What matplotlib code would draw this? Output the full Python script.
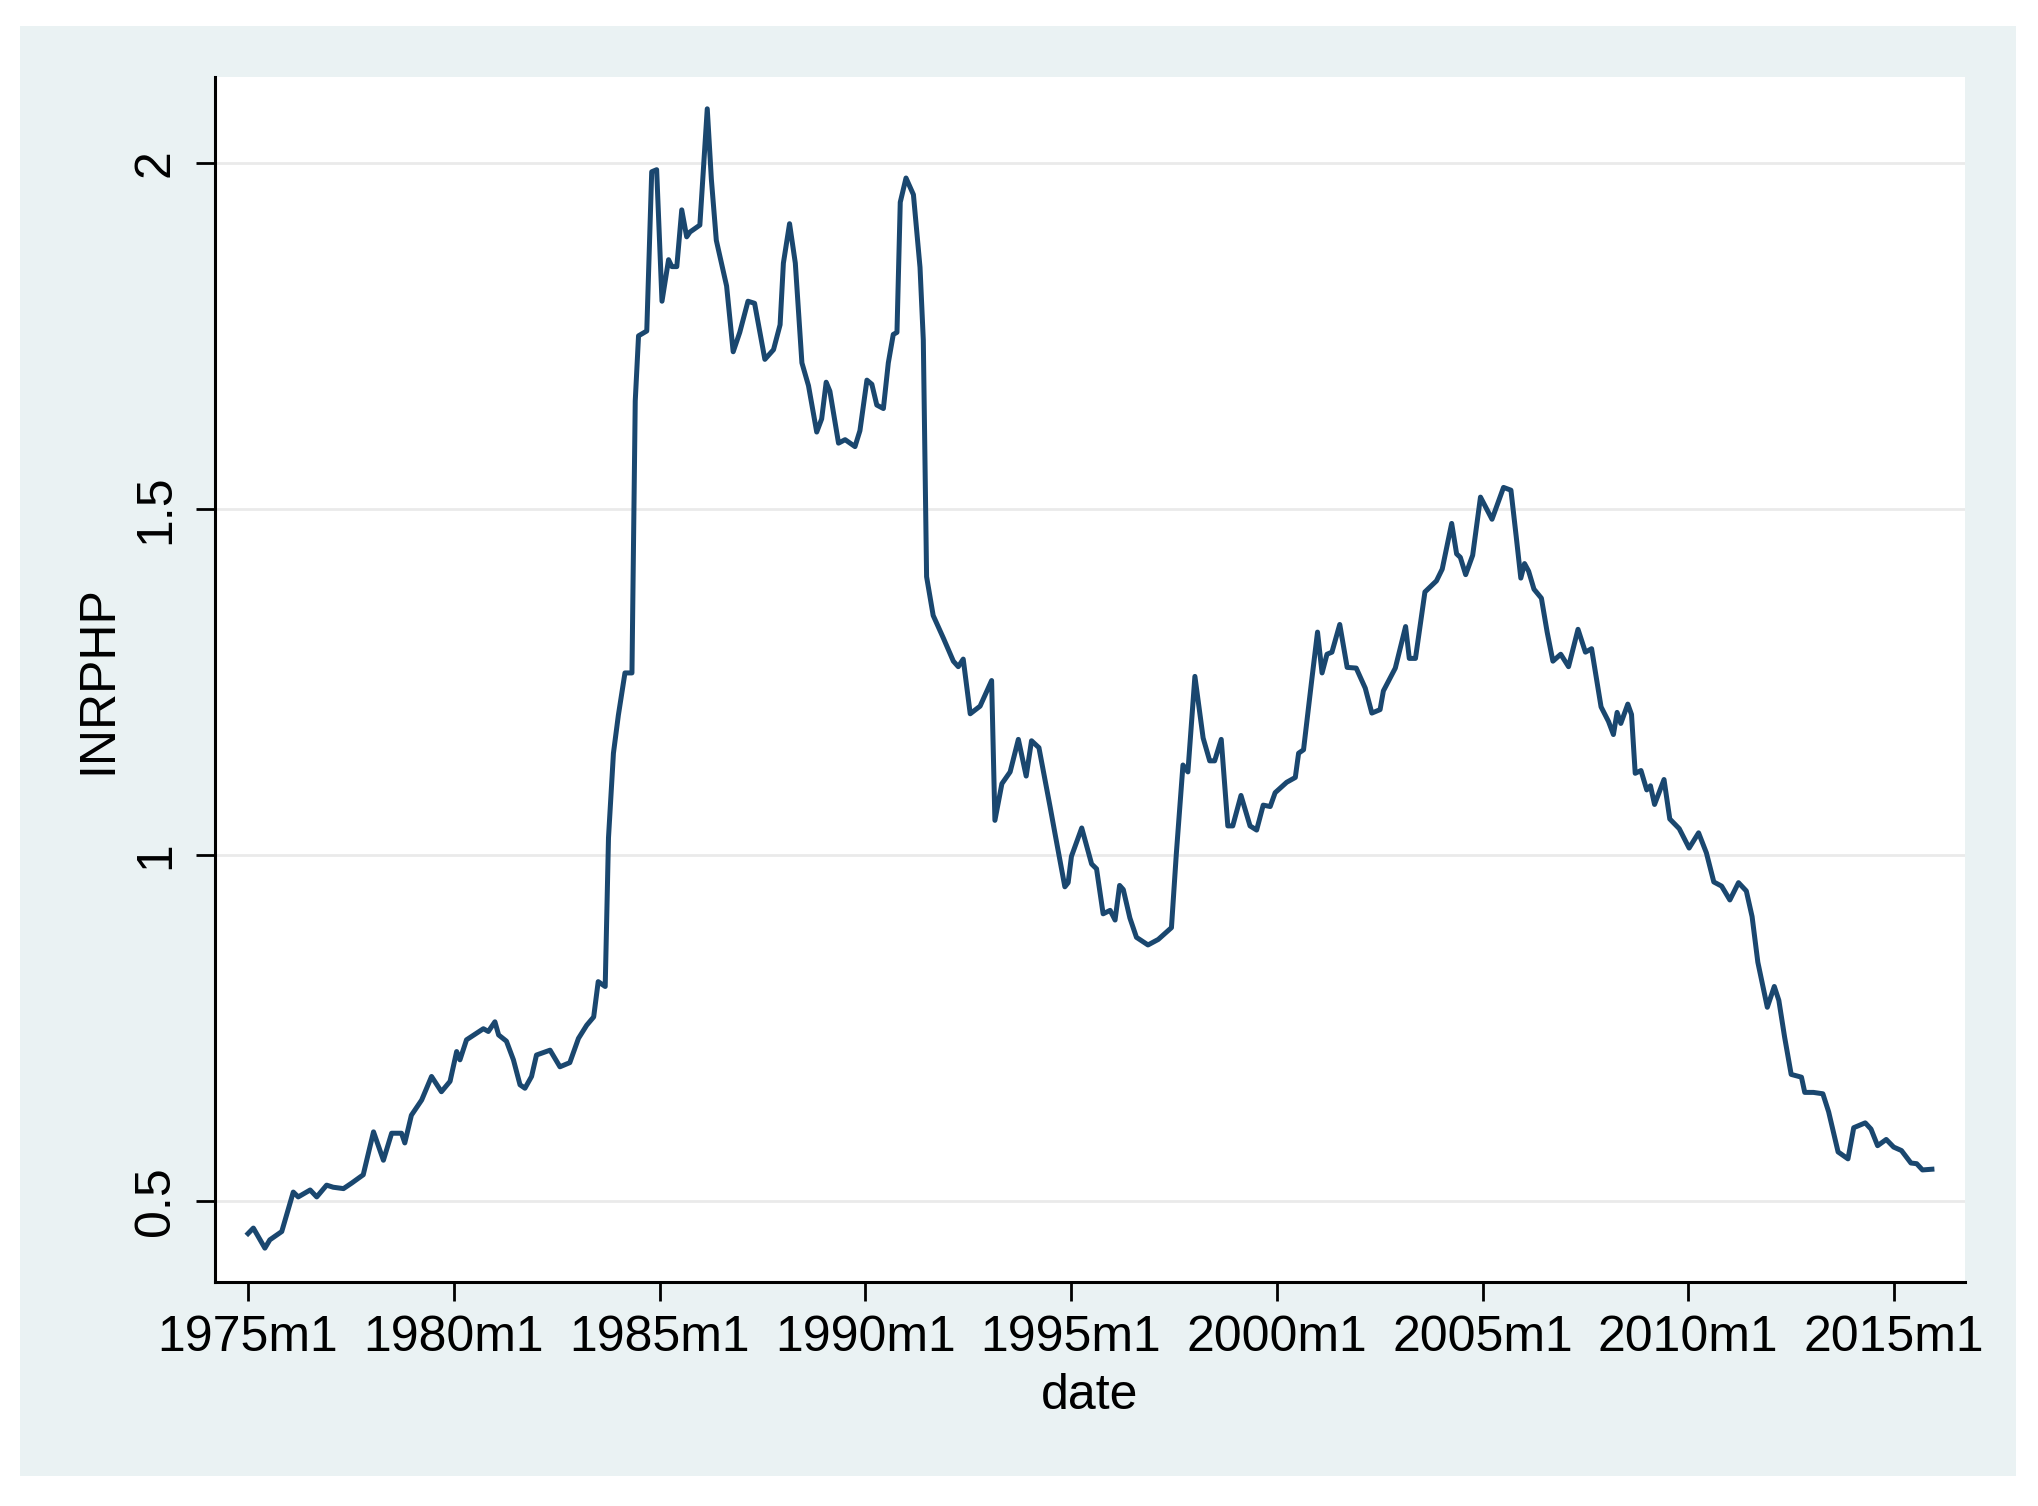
import matplotlib
matplotlib.use('Agg')
import matplotlib.pyplot as plt
from matplotlib.patches import Rectangle

plt.rcParams['font.family'] = ['Liberation Sans', 'DejaVu Sans']

# date in decimal years (1975m1 = 1975.0)
date = [1975.00, 1975.13, 1975.41, 1975.53, 1975.82, 1976.10, 1976.22, 1976.51, 1976.67, 1976.91,
        1977.07, 1977.32, 1977.52, 1977.80, 1978.05, 1978.29, 1978.49, 1978.73, 1978.81, 1978.97,
        1979.22, 1979.46, 1979.70, 1979.91, 1980.07, 1980.15, 1980.31, 1980.72, 1980.84, 1981.00,
        1981.09, 1981.28, 1981.45, 1981.61, 1981.73, 1981.89, 1982.01, 1982.34, 1982.58, 1982.82,
        1983.03, 1983.23, 1983.40, 1983.51, 1983.68, 1983.76, 1983.88, 1984.00, 1984.16, 1984.33,
        1984.41, 1984.49, 1984.69, 1984.81, 1984.93, 1985.06, 1985.22, 1985.30, 1985.42, 1985.54,
        1985.66, 1985.74, 1985.98, 1986.16, 1986.26, 1986.38, 1986.63, 1986.79, 1986.95, 1987.15,
        1987.31, 1987.56, 1987.77, 1987.93, 1988.01, 1988.16, 1988.30, 1988.46, 1988.62, 1988.82,
        1988.94, 1989.05, 1989.14, 1989.35, 1989.51, 1989.75, 1989.87, 1990.04, 1990.16, 1990.28,
        1990.44, 1990.56, 1990.68, 1990.77, 1990.85, 1990.99, 1991.17, 1991.33, 1991.41, 1991.49,
        1991.65, 1991.90, 1992.14, 1992.26, 1992.38, 1992.55, 1992.79, 1993.07, 1993.15, 1993.32,
        1993.52, 1993.72, 1993.91, 1994.04, 1994.22, 1994.49, 1994.61, 1994.85, 1994.93, 1995.01,
        1995.26, 1995.50, 1995.62, 1995.78, 1995.95, 1996.07, 1996.18, 1996.27, 1996.43, 1996.59,
        1996.87, 1997.12, 1997.44, 1997.56, 1997.72, 1997.84, 1998.01, 1998.21, 1998.37, 1998.49,
        1998.65, 1998.81, 1998.93, 1999.13, 1999.35, 1999.51, 1999.67, 1999.84, 1999.96, 2000.24,
        2000.45, 2000.53, 2000.65, 2000.86, 2000.99, 2001.10, 2001.22, 2001.34, 2001.53, 2001.71,
        2001.93, 2002.15, 2002.31, 2002.51, 2002.59, 2002.88, 2003.13, 2003.22, 2003.37, 2003.46,
        2003.60, 2003.88, 2004.02, 2004.25, 2004.37, 2004.46, 2004.59, 2004.76, 2004.95, 2005.23,
        2005.51, 2005.69, 2005.82, 2005.93, 2006.02, 2006.12, 2006.25, 2006.43, 2006.57, 2006.71,
        2006.90, 2007.09, 2007.32, 2007.50, 2007.65, 2007.88, 2008.06, 2008.18, 2008.27, 2008.36,
        2008.53, 2008.62, 2008.71, 2008.85, 2008.99, 2009.08, 2009.18, 2009.41, 2009.55, 2009.78,
        2010.02, 2010.25, 2010.44, 2010.62, 2010.81, 2011.01, 2011.22, 2011.41, 2011.55, 2011.69,
        2011.92, 2012.09, 2012.20, 2012.34, 2012.50, 2012.75, 2012.83, 2013.04, 2013.27, 2013.41,
        2013.64, 2013.88, 2014.02, 2014.30, 2014.44, 2014.60, 2014.81, 2014.99, 2015.18, 2015.41,
        2015.55, 2015.69, 2015.92]

inrphp = [0.453, 0.461, 0.432, 0.444, 0.456, 0.513, 0.506, 0.516, 0.506, 0.523,
          0.520, 0.518, 0.526, 0.538, 0.600, 0.559, 0.598, 0.598, 0.584, 0.624,
          0.646, 0.680, 0.658, 0.673, 0.716, 0.704, 0.733, 0.749, 0.745, 0.759,
          0.740, 0.731, 0.704, 0.668, 0.663, 0.680, 0.711, 0.718, 0.694, 0.700,
          0.735, 0.754, 0.766, 0.817, 0.810, 1.025, 1.147, 1.202, 1.263, 1.263,
          1.656, 1.750, 1.757, 1.987, 1.990, 1.800, 1.860, 1.850, 1.850, 1.932,
          1.893, 1.900, 1.910, 2.078, 1.976, 1.888, 1.822, 1.727, 1.755, 1.800,
          1.797, 1.716, 1.730, 1.766, 1.855, 1.912, 1.855, 1.711, 1.678, 1.611,
          1.630, 1.683, 1.670, 1.595, 1.600, 1.590, 1.613, 1.686, 1.680, 1.650,
          1.645, 1.711, 1.752, 1.755, 1.943, 1.978, 1.954, 1.849, 1.744, 1.402,
          1.346, 1.313, 1.280, 1.272, 1.283, 1.204, 1.215, 1.252, 1.050, 1.103,
          1.120, 1.167, 1.114, 1.165, 1.155, 1.070, 1.031, 0.954, 0.960, 0.998,
          1.039, 0.987, 0.980, 0.915, 0.920, 0.906, 0.956, 0.950, 0.909, 0.881,
          0.870, 0.878, 0.895, 1.003, 1.130, 1.120, 1.258, 1.169, 1.136, 1.136,
          1.167, 1.042, 1.042, 1.086, 1.042, 1.036, 1.072, 1.070, 1.090, 1.105,
          1.112, 1.147, 1.152, 1.258, 1.322, 1.263, 1.290, 1.293, 1.333, 1.271,
          1.270, 1.241, 1.205, 1.210, 1.237, 1.270, 1.330, 1.284, 1.284, 1.322,
          1.380, 1.396, 1.413, 1.479, 1.435, 1.430, 1.405, 1.433, 1.517, 1.485,
          1.531, 1.527, 1.459, 1.400, 1.421, 1.410, 1.384, 1.371, 1.322, 1.280,
          1.290, 1.272, 1.326, 1.293, 1.298, 1.214, 1.193, 1.174, 1.206, 1.190,
          1.218, 1.203, 1.118, 1.122, 1.094, 1.100, 1.073, 1.109, 1.052, 1.038,
          1.010, 1.032, 1.003, 0.961, 0.955, 0.935, 0.960, 0.948, 0.911, 0.845,
          0.780, 0.810, 0.790, 0.737, 0.683, 0.679, 0.657, 0.657, 0.655, 0.629,
          0.571, 0.561, 0.606, 0.613, 0.604, 0.580, 0.589, 0.578, 0.573, 0.555,
          0.554, 0.545, 0.546]

xtick_years = [1975, 1980, 1985, 1990, 1995, 2000, 2005, 2010, 2015]
xtick_labels = ['1975m1', '1980m1', '1985m1', '1990m1', '1995m1',
                '2000m1', '2005m1', '2010m1', '2015m1']
ytick_vals = [0.5, 1, 1.5, 2]
ytick_labels = ['0.5', '1', '1.5', '2']

fig = plt.figure(figsize=(20.38, 15.06), dpi=100)
fig.patch.set_facecolor('white')

# Stata-like graph region (drawn behind the axes)
fig.patches.append(Rectangle((0.0098, 0.0199), 0.9794, 0.9628, transform=fig.transFigure,
                             facecolor='#EAF2F3', edgecolor='none', zorder=-10))

ax = fig.add_axes([0.1055, 0.1487, 0.8587, 0.8002])
ax.set_facecolor('white')

ax.plot(date, inrphp, color='#1A476F', linewidth=3.6, solid_joinstyle='round')

ax.set_xlim(1974.198, 2016.725)
ax.set_ylim(0.383, 2.124)

ax.set_xticks(xtick_years)
ax.set_xticklabels(xtick_labels)
ax.set_yticks(ytick_vals)
ax.set_yticklabels(ytick_labels, rotation=90, va='center')

ax.grid(axis='y', color='#EAEAEA', linewidth=2)
ax.set_axisbelow(True)

for s in ['top', 'right']:
    ax.spines[s].set_visible(False)
for s in ['left', 'bottom']:
    ax.spines[s].set_linewidth(2.2)
    ax.spines[s].set_color('black')

ax.tick_params(axis='both', direction='out', length=14, width=2, labelsize=36, colors='black')
ax.tick_params(axis='x', pad=10)
ax.tick_params(axis='y', pad=12)

ax.set_xlabel('date', fontsize=36, labelpad=8)
ax.set_ylabel('INRPHP', fontsize=36, labelpad=8)

fig.savefig('out.png', dpi=100)
